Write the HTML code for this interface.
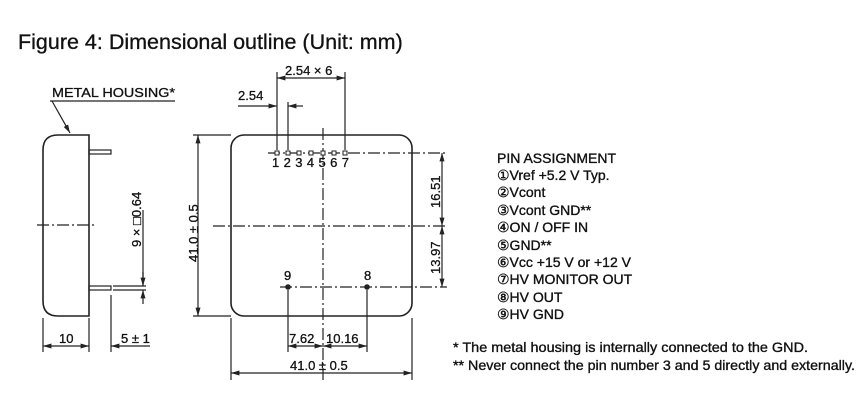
<!DOCTYPE html>
<html><head><meta charset="utf-8"><style>
html,body{margin:0;padding:0;background:#fff;}
svg{display:block;font-family:"Liberation Sans",Arial,sans-serif;}
</style></head><body>
<svg width="868" height="400" viewBox="0 0 868 400" xmlns="http://www.w3.org/2000/svg">
<defs>
<marker id="a" viewBox="0 0 10 10" refX="10" refY="5" markerWidth="7" markerHeight="7" orient="auto-start-reverse"><path d="M0,2 L10,5 L0,8 z" fill="#222"/></marker>
</defs>
<text x="18" y="49" font-size="21.5" fill="#111" stroke="#111" stroke-width="0.3">Figure 4: Dimensional outline (Unit: mm)</text>

<g stroke="#222" fill="none" stroke-width="1.2">
<path d="M89,135 H58 Q43,135 43,150 V301 Q43,316 58,316 H89 Z" stroke-width="1.6"/>
<rect x="89" y="150" width="22" height="4"/>
<rect x="89" y="286" width="22" height="4"/>
<line x1="113" y1="286" x2="146" y2="286"/><line x1="113" y1="290" x2="146" y2="290"/>
<line x1="37" y1="225" x2="97" y2="225" stroke-dasharray="12,3,2,3"/>
<line x1="50" y1="101" x2="175" y2="101"/>
<line x1="52" y1="101" x2="70" y2="133" marker-end="url(#a)"/>
<line x1="43" y1="318" x2="43" y2="352"/><line x1="89" y1="318" x2="89" y2="352"/>
<line x1="111" y1="295" x2="111" y2="352"/>
<line x1="43" y1="346" x2="89" y2="346" marker-start="url(#a)" marker-end="url(#a)"/>
<line x1="150" y1="346" x2="111" y2="346" marker-end="url(#a)"/>
<line x1="143" y1="272" x2="143" y2="286" marker-end="url(#a)"/>
<line x1="143" y1="304" x2="143" y2="290" marker-end="url(#a)"/>
<line x1="143" y1="210" x2="143" y2="286"/>

<rect x="231" y="135" width="181" height="181" rx="13" stroke-width="1.6"/>
<line x1="268" y1="153" x2="447" y2="153" stroke-dasharray="12,3,2,3"/>
<line x1="213" y1="226" x2="447" y2="226" stroke-dasharray="12,3,2,3"/>
<line x1="280" y1="287" x2="447" y2="287" stroke-dasharray="12,3,2,3"/>
<line x1="323" y1="128" x2="323" y2="380" stroke-dasharray="12,3,2,3"/>
<line x1="193" y1="135" x2="231" y2="135"/><line x1="193" y1="316" x2="231" y2="316"/>
<line x1="198" y1="135" x2="198" y2="316" marker-start="url(#a)" marker-end="url(#a)"/>
<line x1="442" y1="153" x2="442" y2="226" marker-start="url(#a)" marker-end="url(#a)"/>
<line x1="442" y1="226" x2="442" y2="287" marker-start="url(#a)" marker-end="url(#a)"/>
<line x1="231" y1="318" x2="231" y2="380"/><line x1="412" y1="318" x2="412" y2="380"/>
<line x1="231" y1="373" x2="412" y2="373" marker-start="url(#a)" marker-end="url(#a)"/>
<line x1="288" y1="290" x2="288" y2="352"/><line x1="367" y1="290" x2="367" y2="352"/>
<line x1="288" y1="346" x2="323" y2="346" marker-start="url(#a)" marker-end="url(#a)"/>
<line x1="323" y1="346" x2="367" y2="346" marker-start="url(#a)" marker-end="url(#a)"/>
<line x1="277" y1="72" x2="277" y2="150"/><line x1="345" y1="72" x2="345" y2="150"/>
<line x1="277" y1="78" x2="345" y2="78" marker-start="url(#a)" marker-end="url(#a)"/>
<line x1="288" y1="102" x2="288" y2="150"/>
<line x1="238" y1="106" x2="277" y2="106" marker-end="url(#a)"/>
<line x1="303" y1="106" x2="288" y2="106" marker-end="url(#a)"/>
</g>
<g fill="#fff" stroke="#222" stroke-width="1">
<rect x="275" y="151" width="4" height="4"/><rect x="286" y="151" width="4" height="4"/>
<rect x="297" y="151" width="4" height="4"/><rect x="309" y="151" width="4" height="4"/>
<rect x="321" y="151" width="4" height="4"/><rect x="332" y="151" width="4" height="4"/>
<rect x="343" y="151" width="4" height="4"/>
</g>
<circle cx="288" cy="287" r="2.8" fill="#222"/><circle cx="367" cy="287" r="2.8" fill="#222"/>

<g font-size="13" fill="#111" stroke="#111" stroke-width="0.3">
<text x="52" y="97" textLength="123" lengthAdjust="spacingAndGlyphs">METAL HOUSING*</text>
<text x="59" y="343">10</text>
<text x="121" y="343">5 ± 1</text>
<text transform="translate(141,247) rotate(-90)">9 × □0.64</text>
<text transform="translate(198,262) rotate(-90)">41.0 ± 0.5</text>
<text transform="translate(440,208) rotate(-90)">16.51</text>
<text transform="translate(440,274) rotate(-90)">13.97</text>
<text x="285" y="75">2.54 × 6</text>
<text x="238" y="100">2.54</text>
<text x="272" y="167" textLength="77" lengthAdjust="spacing">1 2 3 4 5 6 7</text>
<text x="284" y="280">9</text>
<text x="364" y="280">8</text>
<text x="289" y="343">7.62</text>
<text x="326" y="343">10.16</text>
<text x="290" y="370">41.0 ± 0.5</text>
</g>
<g font-size="14" fill="#111" stroke="#111" stroke-width="0.35">
<text x="497" y="163">PIN ASSIGNMENT</text>
<text x="497" y="180">①Vref +5.2 V Typ.</text>
<text x="497" y="197">②Vcont</text>
<text x="497" y="215">③Vcont GND**</text>
<text x="497" y="232">④ON / OFF IN</text>
<text x="497" y="250">⑤GND**</text>
<text x="497" y="267">⑥Vcc +15 V or +12 V</text>
<text x="497" y="284">⑦HV MONITOR OUT</text>
<text x="497" y="302">⑧HV OUT</text>
<text x="497" y="319">⑨HV GND</text>
<text x="453" y="352" textLength="355" lengthAdjust="spacingAndGlyphs">*  The metal housing is internally connected to the GND.</text>
<text x="453" y="370" textLength="402" lengthAdjust="spacingAndGlyphs">** Never connect the pin number 3 and 5 directly and externally.</text>
</g>
</svg>
</body></html>
